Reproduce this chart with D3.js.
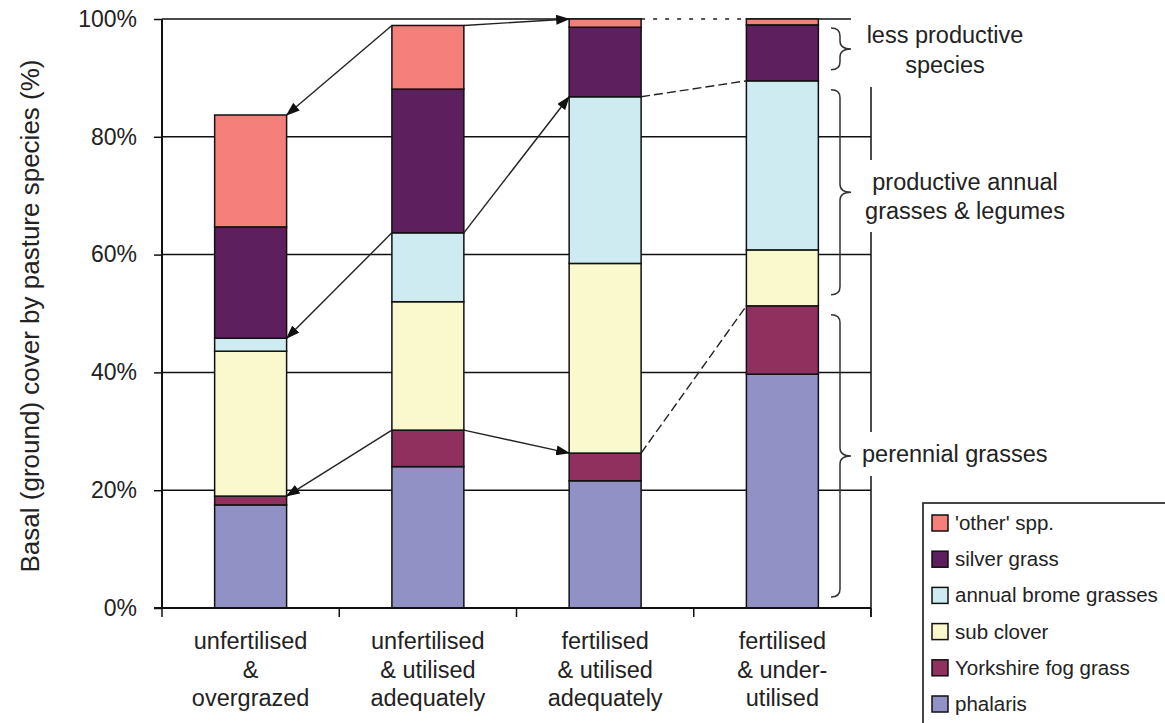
<!DOCTYPE html>
<html><head><meta charset="utf-8">
<script src="https://cdn.jsdelivr.net/npm/d3@7"></script>
<style>body{margin:0;background:#fff} svg{display:block} text{font-family:"Liberation Sans",Arial,sans-serif;fill:#222}</style>
</head><body>
<svg id="chart" width="1165" height="723"></svg>
<script>
// ---- data ----
const categories = ["c1", "c2", "c3", "c4"];
const categoryLines = [
  ["unfertilised", "&", "overgrazed"],
  ["unfertilised", "& utilised", "adequately"],
  ["fertilised", "& utilised", "adequately"],
  ["fertilised", "& under-", "utilised"]
];
const seriesKeys = ["phalaris", "yorkshire", "subclover", "brome", "silver", "other"];
const seriesNames = ["phalaris", "Yorkshire fog grass", "sub clover", "annual brome grasses", "silver grass", "'other' spp."];
const phalaris     = [17.5, 24.0, 21.6, 39.7];
const yorkshireFog = [1.5, 6.2, 4.7, 11.6];
const subClover    = [24.6, 21.8, 32.2, 9.5];
const bromeGrasses = [2.2, 11.7, 28.3, 28.7];
const silverGrass  = [18.9, 24.4, 11.8, 9.5];
const otherSpp     = [19.0, 10.8, 1.4, 1.0];
const yTicks = [0, 20, 40, 60, 80, 100];
const colors = ["#9191c5", "#8f305e", "#faf8cd", "#cdebf0", "#5e1f5e", "#f47f7b"];

// arrows between stack boundaries: [bar, side, boundaryLevel]
const arrows = [
  {from: [1, "l", 6], to: [0, "r", 6], style: "arrow"},
  {from: [1, "r", 6], to: [2, "l", 6], style: "arrow"},
  {from: [1, "l", 4], to: [0, "r", 4], style: "arrow"},
  {from: [1, "r", 4], to: [2, "l", 4], style: "arrow"},
  {from: [1, "l", 2], to: [0, "r", 2], style: "arrow"},
  {from: [1, "r", 2], to: [2, "l", 2], style: "arrow"},
  {from: [2, "r", 6], to: [3, "l", 6], style: "dotted"},
  {from: [2, "r", 4], to: [3, "l", 4], style: "dashed"},
  {from: [2, "r", 2], to: [3, "l", 2], style: "dashed"}
];
const groupLabels = [
  {lines: ["less productive", "species"], range: [4, 6]},
  {lines: ["productive annual", "grasses & legumes"], range: [2, 4]},
  {lines: ["perennial grasses"], range: [0, 2]}
];

// ---- build ----
const table = categories.map((c, i) => ({
  cat: c, phalaris: phalaris[i], yorkshire: yorkshireFog[i], subclover: subClover[i],
  brome: bromeGrasses[i], silver: silverGrass[i], other: otherSpp[i]
}));
const stacked = d3.stack().keys(seriesKeys)(table);
const cum = (b, lvl) => lvl === 0 ? 0 : stacked[lvl - 1][b][1];

const svg = d3.select("#chart");
const L = 162, R = 871, T = 19, B = 608;
const x = d3.scaleBand().domain(categories).range([L, R]).paddingInner(0.594).paddingOuter(0.297);
const y = d3.scaleLinear().domain([0, 100]).range([B, T]);

const defs = svg.append("defs");
defs.append("marker").attr("id", "ah").attr("markerUnits", "userSpaceOnUse")
  .attr("markerWidth", 14).attr("markerHeight", 10).attr("refX", 13).attr("refY", 5)
  .attr("orient", "auto")
  .append("path").attr("d", "M0,0 L14,5 L0,10 Z").attr("fill", "#111");

// gridlines
svg.append("g").selectAll("line").data(yTicks.filter(d => d > 0)).join("line")
  .attr("x1", L).attr("x2", R).attr("y1", d => y(d)).attr("y2", d => y(d))
  .attr("stroke", "#111").attr("stroke-width", 1.5);
// right border
svg.append("line").attr("x1", R).attr("x2", R).attr("y1", T).attr("y2", B + 9)
  .attr("stroke", "#111").attr("stroke-width", 1.5);

// white boxes behind group labels
const boxes = [[851, 0, 200, 87], [858, 160, 220, 72], [855, 432, 210, 44]];
svg.append("g").selectAll("rect").data(boxes).join("rect")
  .attr("x", d => d[0]).attr("y", d => d[1]).attr("width", d => d[2]).attr("height", d => d[3])
  .attr("fill", "#fff");

// bars
svg.append("g").selectAll("g").data(stacked).join("g")
  .attr("fill", (d, i) => colors[i])
  .selectAll("rect").data(d => d).join("rect")
  .attr("x", d => x(d.data.cat)).attr("width", x.bandwidth())
  .attr("y", d => y(d[1])).attr("height", d => y(d[0]) - y(d[1]))
  .attr("stroke", "#111").attr("stroke-width", 1.5);

// y axis
const yAxis = svg.append("g").attr("transform", `translate(${L},0)`)
  .call(d3.axisLeft(y).tickValues(yTicks).tickFormat(d => d + "%").tickSize(8).tickPadding(17));
yAxis.select(".domain").attr("stroke", "#111").attr("stroke-width", 2).attr("d", `M0,${B}V${T}`);
yAxis.selectAll(".tick line").attr("stroke", "#111").attr("stroke-width", 1.5);
yAxis.selectAll(".tick text").attr("font-size", 23).attr("fill", "#222")
  .attr("font-family", '"Liberation Sans",Arial,sans-serif');

// x axis
const xAxis = svg.append("g").attr("transform", `translate(0,${B})`)
  .call(d3.axisBottom(x).tickSize(0).tickFormat(""));
xAxis.select(".domain").attr("stroke", "#111").attr("stroke-width", 2).attr("d", `M${L - 8},0H${R}`);
const bounds = d3.range(categories.length + 1).map(i => L + i * x.step());
svg.append("g").selectAll("line").data(bounds).join("line")
  .attr("x1", d => d).attr("x2", d => d).attr("y1", B).attr("y2", B + 9)
  .attr("stroke", "#111").attr("stroke-width", 1.5);
const cl = svg.append("g").selectAll("text").data(categories).join("text")
  .attr("text-anchor", "middle").attr("font-size", 23.5)
  .attr("transform", d => `translate(${x(d) + x.bandwidth() / 2},${B + 41})`);
cl.selectAll("tspan").data((d, i) => categoryLines[i]).join("tspan")
  .attr("x", 0).attr("y", (d, i) => i * 28.5).text(d => d);

// y title
svg.append("text").attr("transform", "translate(39,316) rotate(-90)")
  .attr("text-anchor", "middle").attr("font-size", 26)
  .text("Basal (ground) cover by  pasture species (%)");

// connector lines & arrows
const pt = ([b, side, lvl]) => [x(categories[b]) + (side === "r" ? x.bandwidth() : 0), y(cum(b, lvl))];
const ag = svg.append("g");
arrows.forEach(a => {
  const p0 = pt(a.from), p1 = pt(a.to);
  if (a.style === "dotted") {
    ag.append("line").attr("x1", p0[0] + 1).attr("y1", p0[1]).attr("x2", p1[0] - 1).attr("y2", p1[1])
      .attr("stroke", "#fff").attr("stroke-width", 4);
  }
  const ln = ag.append("line").attr("x1", p0[0]).attr("y1", p0[1]).attr("x2", p1[0]).attr("y2", p1[1])
    .attr("stroke", "#222").attr("stroke-width", 1.4);
  if (a.style === "arrow") ln.attr("marker-end", "url(#ah)");
  if (a.style === "dotted") ln.attr("stroke-dasharray", "4,8").attr("stroke-width", 1.6);
  if (a.style === "dashed") ln.attr("stroke-dasharray", "9,4");
});

// braces + labels
const bx0 = 831, bstem = 840, btip = 851, rr = 8;
function bracePath(y0, y1) {
  const ym = (y0 + y1) / 2;
  return `M${bx0},${y0} Q${bstem},${y0} ${bstem},${y0 + rr} L${bstem},${ym - rr} Q${bstem},${ym} ${btip},${ym}` +
         ` Q${bstem},${ym} ${bstem},${ym + rr} L${bstem},${y1 - rr} Q${bstem},${y1} ${bx0},${y1}`;
}
const labelPos = [
  {x: 945, y: 43, anchor: "middle", dy: 30},
  {x: 965, y: 190, anchor: "middle", dy: 28.5},
  {x: 862, y: 462, anchor: "start", dy: 28}
];
groupLabels.forEach((g, i) => {
  const yTop = y(cum(3, g.range[1])) + 9, yBot = y(cum(3, g.range[0])) - 11;
  svg.append("path").attr("d", bracePath(yTop, yBot)).attr("fill", "none")
    .attr("stroke", "#333").attr("stroke-width", 1.5);
  const t = svg.append("text").attr("font-size", 23.5).attr("text-anchor", labelPos[i].anchor);
  g.lines.forEach((s, j) => t.append("tspan").attr("x", labelPos[i].x).attr("y", labelPos[i].y + j * labelPos[i].dy).text(s));
});

// legend
const lg = svg.append("g");
lg.append("rect").attr("x", 923).attr("y", 503).attr("width", 260).attr("height", 240)
  .attr("fill", "#fff").attr("stroke", "#333").attr("stroke-width", 1.8);
const legendOrder = d3.range(seriesKeys.length).reverse();
const li = lg.selectAll("g.it").data(legendOrder).join("g").attr("class", "it")
  .attr("transform", (d, i) => `translate(932,${523 + i * 36.2})`);
li.append("rect").attr("x", 0).attr("y", -8).attr("width", 16).attr("height", 16)
  .attr("fill", d => colors[d]).attr("stroke", "#111").attr("stroke-width", 1.5);
li.append("text").attr("x", 23).attr("y", 7).attr("font-size", 20.5).text(d => seriesNames[d]);
</script>
</body></html>
